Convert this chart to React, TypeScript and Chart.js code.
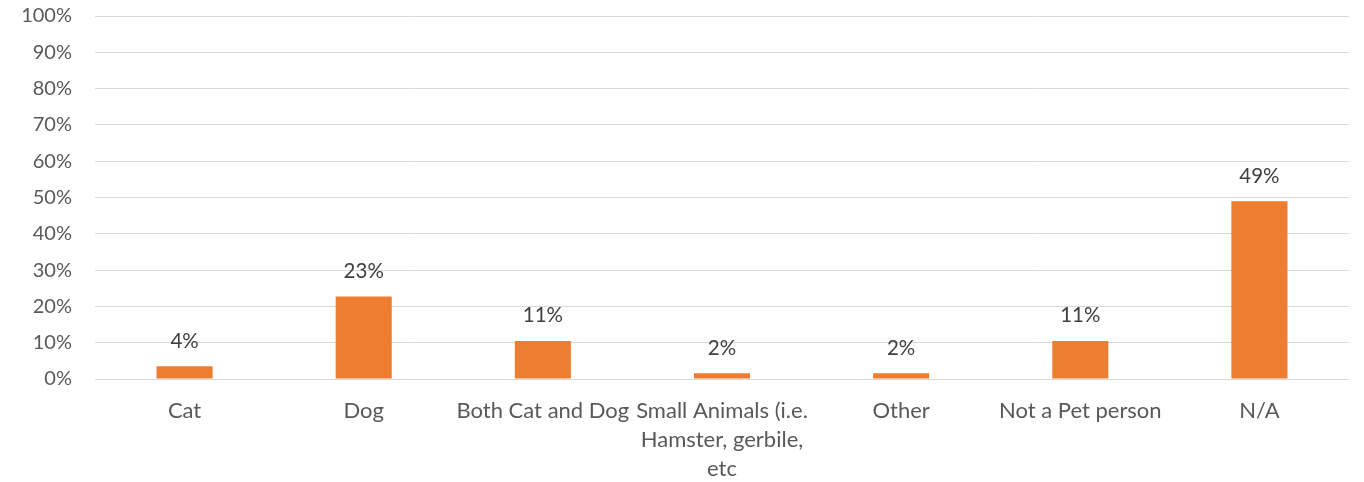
import React, { useEffect, useRef } from "react";
import { Chart, registerables } from "chart.js";

Chart.register(...registerables);

const categories: (string | string[])[] = [
  "Cat",
  "Dog",
  "Both Cat and Dog",
  ["Small Animals (i.e.", "Hamster, gerbile,", "etc"],
  "Other",
  "Not a Pet person",
  "N/A",
];
const values = [3.5, 22.7, 10.5, 1.6, 1.6, 10.5, 49.0];
const valueLabels = ["4%", "23%", "11%", "2%", "2%", "11%", "49%"];

const FONT = "Lato, 'Liberation Sans', sans-serif";

const dataLabelPlugin = {
  id: "dataLabels",
  afterDatasetsDraw(chart: any) {
    const ctx = chart.ctx;
    const meta = chart.getDatasetMeta(0);
    ctx.save();
    ctx.font = `20.5px ${FONT}`;
    ctx.fillStyle = "#404040";
    ctx.textAlign = "center";
    ctx.textBaseline = "middle";
    meta.data.forEach((el: any, i: number) => {
      ctx.fillText(valueLabels[i], el.x, el.y - 25);
    });
    ctx.restore();
  },
};

export default function App() {
  const ref = useRef<HTMLCanvasElement | null>(null);
  useEffect(() => {
    if (!ref.current) return;
    const chart = new Chart(ref.current, {
      type: "bar",
      data: {
        labels: categories,
        datasets: [
          {
            data: values,
            backgroundColor: "#ED7D31",
            borderWidth: 0,
            barPercentage: 0.313,
            categoryPercentage: 1,
          },
        ],
      },
      options: {
        animation: false,
        responsive: true,
        maintainAspectRatio: false,
        layout: { padding: { top: 16, right: 15, left: 0, bottom: 0 } },
        plugins: { legend: { display: false }, tooltip: { enabled: false } },
        scales: {
          x: {
            grid: { display: false, drawTicks: false },
            border: { display: false },
            ticks: {
              color: "#595959",
              font: { family: FONT, size: 22, lineHeight: 1.32 },
              padding: 17,
              maxRotation: 0,
              autoSkip: false,
            },
            afterFit: (s: any) => {
              s.height = 103;
            },
          },
          y: {
            min: 0,
            max: 100,
            grid: { color: "#D9D9D9", lineWidth: 1, drawTicks: false },
            border: { display: false },
            ticks: {
              stepSize: 10,
              color: "#595959",
              font: { family: FONT, size: 20 },
              padding: 23,
              callback: (v: any) => v + "%",
            },
            afterFit: (s: any) => {
              s.width = 95;
              s.paddingTop = 0;
              s.paddingBottom = 0;
            },
          },
        },
      },
      plugins: [dataLabelPlugin],
    });
    return () => chart.destroy();
  }, []);
  return (
    <div style={{ position: "fixed", left: 0, top: 0, width: 1364, height: 482, background: "#fff" }}>
      <canvas ref={ref} />
    </div>
  );
}
